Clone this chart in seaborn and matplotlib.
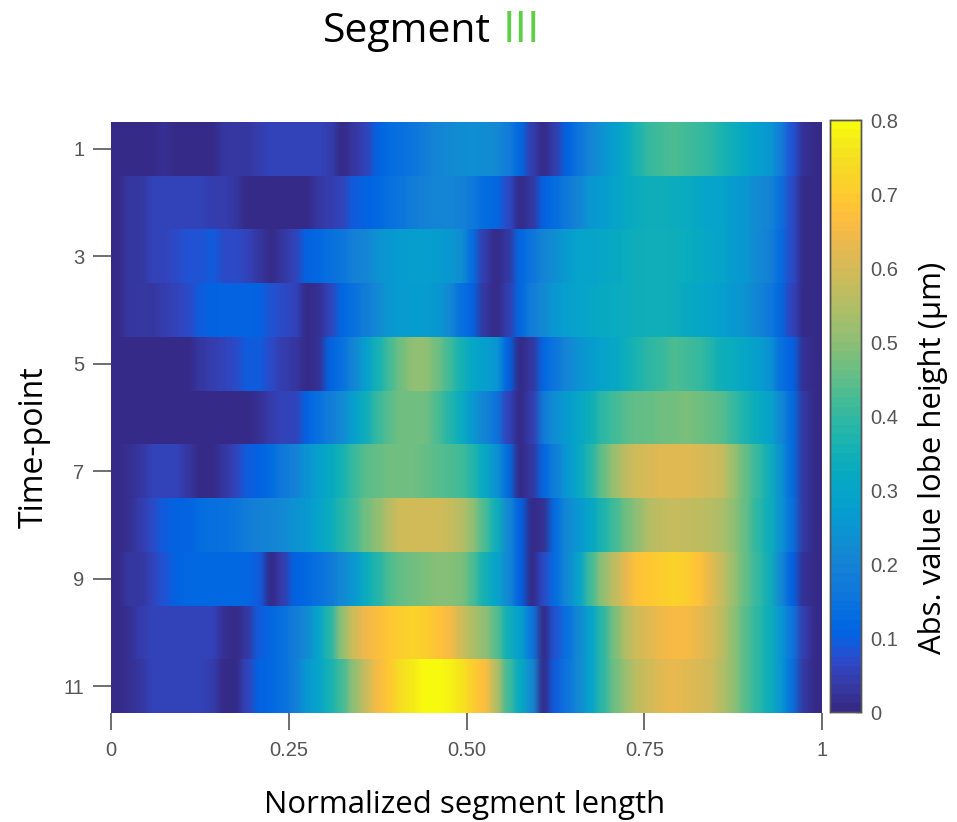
import numpy as np
import pandas as pd
import matplotlib
matplotlib.use('Agg')
import matplotlib.pyplot as plt
from matplotlib.colors import ListedColormap
import seaborn as sns

# lobe height per time-point, 60 bins along the segment
tp1 = [.01,.01,.01,.01,.02,.005,.005,.005,.005,.025,.03,.035,.04,.06,.06,.06,.06,.06,.045,.01,.025,.05,.1,.13,.14,.16,.18,.2,.22,.23,.23,.23,.22,.18,.12,.04,.005,.04,.11,.16,.2,.24,.28,.32,.37,.4,.42,.43,.42,.41,.39,.37,.34,.31,.28,.25,.18,.08,.02,0]
tp2 = [0,.03,.035,.05,.05,.05,.05,.05,.045,.04,.03,.01,.005,.005,.005,.005,.005,.03,.04,.06,.09,.11,.12,.14,.16,.18,.19,.2,.2,.19,.17,.13,.12,.07,.005,.03,.11,.13,.17,.21,.25,.27,.3,.32,.33,.34,.34,.33,.33,.31,.3,.29,.27,.25,.22,.2,.14,.07,.01,0]
tp3 = [0,.03,.03,.05,.06,.075,.08,.08,.09,.075,.07,.05,.03,.005,.03,.05,.11,.12,.14,.16,.19,.21,.24,.26,.27,.28,.28,.27,.26,.23,.13,.04,.005,.03,.12,.16,.2,.23,.27,.29,.3,.31,.32,.33,.34,.35,.35,.34,.33,.32,.31,.29,.27,.25,.22,.19,.13,.07,.01,0]
tp4 = [0,.025,.03,.03,.045,.055,.07,.09,.11,.11,.11,.11,.11,.08,.07,.05,.005,.02,.06,.12,.14,.18,.22,.26,.27,.27,.27,.26,.22,.14,.11,.03,.005,.04,.12,.18,.22,.26,.28,.3,.31,.32,.33,.33,.34,.35,.34,.34,.32,.31,.3,.28,.26,.24,.21,.17,.12,.06,.01,0]
tp5 = [0,0,0,0,0,0,0,.03,.045,.06,.07,.09,.09,.07,.045,.03,.005,.02,.1,.14,.2,.28,.36,.42,.47,.5,.5,.47,.42,.36,.31,.28,.25,.11,.005,.03,.12,.16,.2,.24,.27,.29,.31,.34,.37,.39,.41,.43,.42,.4,.38,.35,.33,.31,.28,.24,.15,.1,.02,0]
tp6 = [0,0,0,0,0,0,0,0,0,0,0,0,.02,.04,.05,.06,.11,.15,.18,.22,.28,.34,.4,.44,.47,.47,.47,.43,.38,.33,.25,.2,.16,.06,.005,.04,.17,.23,.27,.31,.35,.39,.42,.44,.45,.46,.47,.47,.48,.47,.46,.44,.41,.37,.33,.29,.22,.13,.03,0]
tp7 = [0,.02,.025,.05,.05,.05,.035,.005,.005,.03,.05,.09,.11,.13,.17,.19,.24,.28,.32,.36,.4,.44,.46,.47,.47,.47,.46,.44,.43,.42,.38,.32,.24,.13,.005,.03,.12,.18,.26,.32,.38,.46,.52,.57,.6,.61,.62,.62,.62,.61,.6,.58,.52,.45,.4,.34,.24,.13,.03,0]
tp8 = [0,.02,.045,.07,.09,.1,.11,.13,.14,.15,.16,.18,.19,.2,.22,.24,.26,.29,.33,.38,.42,.47,.51,.55,.59,.6,.6,.59,.58,.55,.5,.43,.35,.22,.1,.005,.02,.13,.22,.26,.31,.37,.42,.47,.51,.55,.57,.58,.57,.57,.56,.54,.5,.45,.39,.34,.24,.14,.03,0]
tp9 = [0,.03,.03,.05,.08,.1,.115,.115,.115,.115,.115,.115,.09,.005,.04,.1,.12,.15,.17,.22,.26,.33,.38,.43,.46,.47,.48,.49,.49,.48,.43,.36,.3,.22,.1,.005,.07,.13,.22,.3,.42,.5,.57,.63,.68,.7,.71,.72,.71,.68,.63,.58,.52,.46,.4,.34,.22,.11,.02,0]
tp10 = [0,.02,.04,.05,.055,.06,.06,.06,.05,.02,.005,.03,.09,.12,.15,.18,.22,.3,.38,.5,.6,.64,.67,.69,.71,.72,.71,.68,.66,.6,.54,.5,.44,.34,.28,.16,.005,.08,.14,.22,.3,.39,.48,.55,.6,.62,.64,.66,.65,.63,.61,.57,.5,.44,.39,.35,.26,.16,.04,0]
tp11 = [0,.02,.035,.05,.055,.055,.055,.05,.045,.01,.005,.05,.1,.12,.15,.18,.25,.3,.36,.42,.5,.58,.66,.7,.74,.77,.79,.8,.78,.75,.71,.67,.56,.42,.32,.22,.005,.09,.16,.22,.3,.39,.47,.52,.57,.6,.62,.63,.62,.61,.59,.55,.5,.44,.39,.35,.26,.14,.03,0]

x_ticklabels = ['0', '0.25', '0.50', '0.75', '1']
y_ticklabels = ['1', '3', '5', '7', '9', '11']
cbar_ticks = [0, .1, .2, .3, .4, .5, .6, .7, .8]
cbar_labels = ['0', '0.1', '0.2', '0.3', '0.4', '0.5', '0.6', '0.7', '0.8']

# parula
parula = ListedColormap([
    [0.2081,0.1663,0.5292],[0.2116,0.1898,0.5777],[0.2123,0.2138,0.6270],[0.2081,0.2386,0.6771],
    [0.1959,0.2645,0.7279],[0.1707,0.2919,0.7792],[0.1253,0.3242,0.8303],[0.0591,0.3598,0.8683],
    [0.0117,0.3875,0.8820],[0.0060,0.4086,0.8828],[0.0165,0.4266,0.8786],[0.0329,0.4430,0.8720],
    [0.0498,0.4586,0.8641],[0.0629,0.4737,0.8554],[0.0723,0.4887,0.8467],[0.0779,0.5040,0.8384],
    [0.0793,0.5200,0.8312],[0.0749,0.5375,0.8263],[0.0641,0.5570,0.8240],[0.0488,0.5772,0.8228],
    [0.0343,0.5966,0.8199],[0.0265,0.6137,0.8135],[0.0239,0.6287,0.8038],[0.0231,0.6418,0.7913],
    [0.0228,0.6535,0.7768],[0.0267,0.6642,0.7607],[0.0384,0.6743,0.7436],[0.0590,0.6838,0.7254],
    [0.0843,0.6928,0.7062],[0.1133,0.7015,0.6859],[0.1453,0.7098,0.6646],[0.1801,0.7177,0.6424],
    [0.2178,0.7250,0.6193],[0.2586,0.7317,0.5954],[0.3022,0.7376,0.5712],[0.3482,0.7424,0.5473],
    [0.3953,0.7459,0.5244],[0.4420,0.7481,0.5033],[0.4871,0.7491,0.4840],[0.5300,0.7491,0.4661],
    [0.5709,0.7485,0.4494],[0.6099,0.7473,0.4337],[0.6473,0.7456,0.4188],[0.6834,0.7435,0.4044],
    [0.7184,0.7411,0.3905],[0.7525,0.7384,0.3768],[0.7858,0.7356,0.3633],[0.8185,0.7327,0.3498],
    [0.8507,0.7299,0.3360],[0.8824,0.7274,0.3217],[0.9139,0.7258,0.3063],[0.9450,0.7261,0.2886],
    [0.9739,0.7314,0.2666],[0.9938,0.7455,0.2403],[0.9990,0.7653,0.2164],[0.9955,0.7861,0.1967],
    [0.9880,0.8066,0.1794],[0.9789,0.8271,0.1633],[0.9697,0.8481,0.1475],[0.9626,0.8705,0.1309],
    [0.9589,0.8949,0.1132],[0.9598,0.9218,0.0948],[0.9661,0.9514,0.0755],[0.9763,0.9831,0.0538]])

df = pd.DataFrame([tp1, tp2, tp3, tp4, tp5, tp6, tp7, tp8, tp9, tp10, tp11],
                  index=range(1, 12))

def soften(img, dpi):
    # the reference is a resampled screenshot, cells run into each other sideways
    k = np.exp(-0.5*(np.arange(-12, 13)/3.5)**2)
    k = k/k.sum()
    out = img.copy()
    pad = np.pad(img, ((0, 0), (12, 12), (0, 0)), mode='edge')
    for c in range(3):
        out[:, :, c] = np.apply_along_axis(lambda r: np.convolve(r, k, mode='valid'), 1, pad[:, :, c])
    return out, 0, 0

sns.set_theme(style='white')
plt.rcParams['font.family'] = ['Liberation Sans', 'DejaVu Sans']
W, H = 957, 822
grey = '#555555'
label_font = ['Open Sans', 'DejaVu Sans']

fig = plt.figure(figsize=(W/100, H/100), dpi=100)
# pixel boxes
ax = fig.add_axes([111/W, 1-713/H, 711/W, 591/H])
cax = fig.add_axes([830/W, 1-712/H, 31/W, 592/H])

sns.heatmap(df, ax=ax, cbar_ax=cax, cmap=parula, vmin=0, vmax=0.8,
            xticklabels=False, yticklabels=False)
ax.collections[0].set_agg_filter(soften)

ax.set_xticks([0, 15, 30, 45, 60])
ax.set_xticklabels(x_ticklabels, rotation=0)
ax.set_yticks([0.5, 2.5, 4.5, 6.5, 8.5, 10.5])
ax.set_yticklabels(y_ticklabels, rotation=0)
ax.tick_params(axis='x', length=12, width=1.2, color=grey, labelcolor=grey, labelsize=14.5, pad=8, bottom=True)
ax.tick_params(axis='y', length=13, width=1.2, color=grey, labelcolor=grey, labelsize=14.5, pad=6, left=True)

cax.set_yticks(cbar_ticks)
cax.set_yticklabels(cbar_labels)
cax.tick_params(axis='y', direction='in', length=4, width=1, color=grey, labelcolor=grey, labelsize=14.5, pad=7, right=True)
for s in cax.spines.values():
    s.set_visible(True)
    s.set_color(grey)
    s.set_linewidth(1)

fig.text(323/W, 1-42/H, 'Segment', fontsize=29.4, color='black', family=label_font, ha='left', va='baseline')
fig.text(503/W, 1-42/H, 'III', fontsize=32, color='#5ccf45', family=label_font, ha='left', va='baseline')
fig.text(465/W, 1-813/H, 'Normalized segment length', fontsize=22.4, color='black', family=label_font, ha='center', va='baseline')
fig.text(51/W, 1-447/H, 'Time-point', fontsize=23, color='black', family=label_font, rotation=90, ha='right', va='center')
fig.text(948/W, 1-458/H, 'Abs. value lobe height (µm)', fontsize=22.4, color='black', family=label_font, rotation=90, ha='right', va='center')

plt.savefig('out.png', dpi=100)
